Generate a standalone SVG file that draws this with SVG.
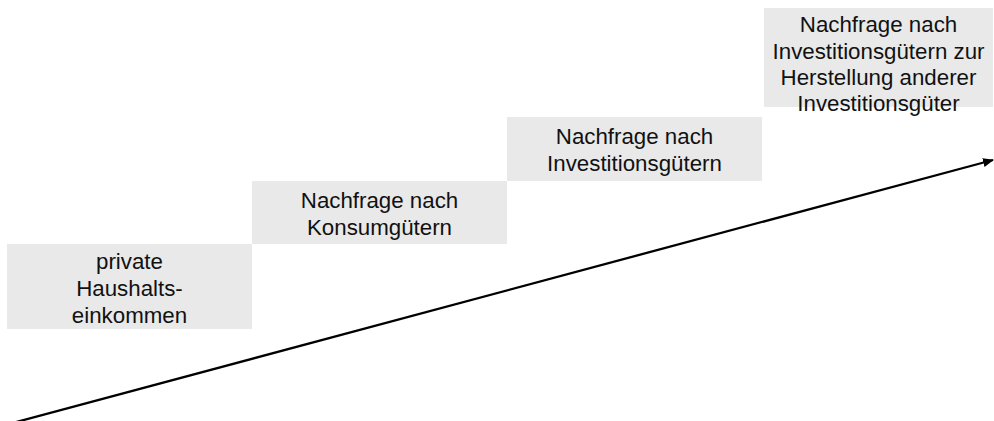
<svg xmlns="http://www.w3.org/2000/svg" width="994" height="421" viewBox="0 0 994 421">
  <style>
    .box { fill: #e9e9e9; }
    .label { font-family: "Liberation Sans", Arial, sans-serif; font-size: 22.3px; fill: #111; text-anchor: middle; }
    .arrow { stroke: #000; stroke-width: 2.3; fill: none; }
  </style>
  <defs>
    <marker id="head" markerWidth="11" markerHeight="9" refX="10" refY="4.5" orient="auto" markerUnits="userSpaceOnUse">
      <path d="M0,0 L11,4.5 L0,9 Z" fill="#000"/>
    </marker>
  </defs>

  <g id="step1">
    <rect class="box" x="7" y="244" width="245" height="85"/>
    <text class="label" x="129.5" y="268.5">private</text>
    <text class="label" x="129.5" y="296">Haushalts-</text>
    <text class="label" x="129.5" y="323">einkommen</text>
  </g>

  <g id="step2">
    <rect class="box" x="252" y="181" width="255" height="63"/>
    <text class="label" x="379.5" y="208">Nachfrage nach</text>
    <text class="label" x="379.5" y="235">Konsumgütern</text>
  </g>

  <g id="step3">
    <rect class="box" x="507" y="117" width="255" height="64"/>
    <text class="label" x="634.5" y="144">Nachfrage nach</text>
    <text class="label" x="634.5" y="170.5">Investitionsgütern</text>
  </g>

  <g id="step4">
    <rect class="box" x="764" y="8" width="229" height="99"/>
    <text class="label" x="878.5" y="32">Nachfrage nach</text>
    <text class="label" x="878.5" y="58.5">Investitionsgütern zur</text>
    <text class="label" x="878.5" y="85">Herstellung anderer</text>
    <text class="label" x="878.5" y="111">Investitionsgüter</text>
  </g>

  <g id="connectors">
    <line class="arrow" x1="10" y1="423.7" x2="993" y2="160" marker-end="url(#head)"/>
  </g>
</svg>
